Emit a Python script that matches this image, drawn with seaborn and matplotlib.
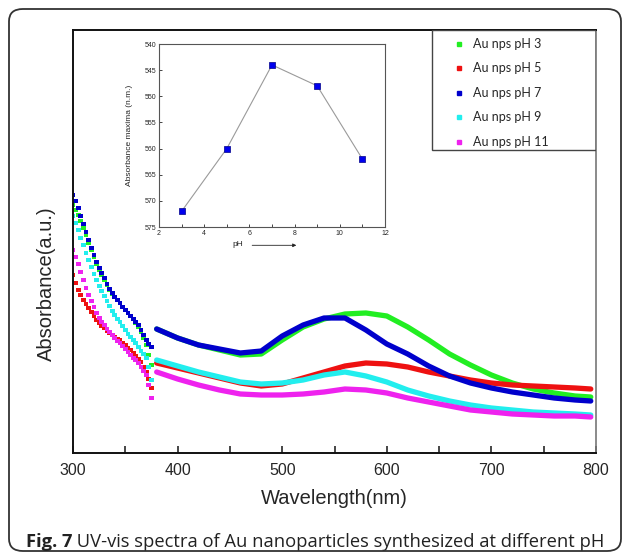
import pandas as pd
import seaborn as sns
import matplotlib.pyplot as plt
from matplotlib.lines import Line2D
from matplotlib.patches import FancyBboxPatch, Rectangle

# --- DATA ---
wl_uv = [300, 302.5, 305, 307.5, 310, 312.5, 315, 317.5, 320, 322.5, 325, 327.5, 330, 332.5,
         335, 337.5, 340, 342.5, 345, 347.5, 350, 352.5, 355, 357.5, 360, 362.5, 365, 367.5,
         370, 372.5, 375]
wl_vis = [380, 400, 420, 440, 460, 480, 500, 520, 540, 560, 580, 600, 620, 640,
          660, 680, 700, 720, 740, 760, 780, 795]

samples = ["Au nps pH 3", "Au nps pH 5", "Au nps pH 7", "Au nps pH 9", "Au nps pH 11"]
colors = ["#22ee22", "#ee1111", "#0000cc", "#22eeee", "#ee22ee"]

uv_ph3 = [2.48, 2.43, 2.38, 2.32, 2.25, 2.18, 2.10, 2.03, 1.96, 1.89, 1.83, 1.78, 1.73, 1.68,
          1.63, 1.59, 1.56, 1.53, 1.50, 1.46, 1.43, 1.40, 1.37, 1.34, 1.30, 1.26, 1.21, 1.15,
          1.08, 0.98, 0.88]
uv_ph5 = [1.78, 1.70, 1.63, 1.58, 1.53, 1.49, 1.45, 1.41, 1.37, 1.33, 1.30, 1.27, 1.25, 1.22,
          1.20, 1.18, 1.16, 1.14, 1.13, 1.10, 1.08, 1.05, 1.03, 1.00, 0.97, 0.94, 0.91, 0.86,
          0.81, 0.74, 0.65]
uv_ph7 = [2.58, 2.52, 2.45, 2.37, 2.29, 2.21, 2.13, 2.05, 1.98, 1.91, 1.85, 1.80, 1.75, 1.69,
          1.64, 1.60, 1.56, 1.53, 1.50, 1.46, 1.43, 1.40, 1.37, 1.34, 1.31, 1.28, 1.23, 1.18,
          1.13, 1.09, 1.06]
uv_ph9 = [2.37, 2.30, 2.23, 2.15, 2.08, 2.00, 1.93, 1.86, 1.79, 1.73, 1.67, 1.62, 1.57, 1.52,
          1.47, 1.42, 1.38, 1.34, 1.31, 1.27, 1.23, 1.19, 1.16, 1.13, 1.10, 1.06, 1.02, 0.99,
          0.95, 0.86, 0.73]
uv_ph11 = [2.03, 1.96, 1.89, 1.81, 1.73, 1.65, 1.58, 1.52, 1.46, 1.40, 1.35, 1.31, 1.28, 1.24,
           1.21, 1.18, 1.15, 1.12, 1.10, 1.07, 1.04, 1.01, 0.98, 0.95, 0.93, 0.90, 0.86, 0.82,
           0.78, 0.68, 0.55]

vis_ph3 = [1.24, 1.15, 1.08, 1.03, 0.98, 0.99, 1.13, 1.26, 1.34, 1.39, 1.40, 1.37, 1.26, 1.13,
           0.99, 0.88, 0.78, 0.70, 0.64, 0.60, 0.57, 0.56]
vis_ph5 = [0.90, 0.85, 0.80, 0.75, 0.70, 0.67, 0.69, 0.75, 0.81, 0.87, 0.90, 0.89, 0.86, 0.81,
           0.77, 0.73, 0.70, 0.68, 0.67, 0.66, 0.65, 0.64]
vis_ph7 = [1.24, 1.15, 1.08, 1.04, 1.00, 1.02, 1.17, 1.28, 1.35, 1.35, 1.23, 1.09, 0.99, 0.87,
           0.77, 0.70, 0.65, 0.61, 0.58, 0.55, 0.53, 0.52]
vis_ph9 = [0.93, 0.87, 0.81, 0.76, 0.71, 0.69, 0.70, 0.73, 0.78, 0.81, 0.77, 0.71, 0.63, 0.57,
           0.52, 0.48, 0.45, 0.43, 0.41, 0.40, 0.39, 0.38]
vis_ph11 = [0.81, 0.74, 0.68, 0.63, 0.59, 0.58, 0.58, 0.59, 0.61, 0.64, 0.63, 0.60, 0.55, 0.51,
            0.47, 0.43, 0.41, 0.39, 0.38, 0.37, 0.37, 0.36]

# inset: absorbance maximum vs pH
ph_values = [3, 5, 7, 9, 11]
abs_max = [572, 560, 544, 548, 562]

# --- BUILD LONG TABLES ---
uv_sets = [uv_ph3, uv_ph5, uv_ph7, uv_ph9, uv_ph11]
vis_sets = [vis_ph3, vis_ph5, vis_ph7, vis_ph9, vis_ph11]
uv_df = pd.concat([pd.DataFrame({"Wavelength": wl_uv, "Absorbance": v, "Sample": s})
                   for s, v in zip(samples, uv_sets)])
vis_df = pd.concat([pd.DataFrame({"Wavelength": wl_vis, "Absorbance": v, "Sample": s})
                    for s, v in zip(samples, vis_sets)])
palette = dict(zip(samples, colors))
draw_order = ["Au nps pH 3", "Au nps pH 5", "Au nps pH 9", "Au nps pH 11", "Au nps pH 7"]

sns.set_style("white")
plt.rcParams["font.family"] = ["Liberation Sans", "DejaVu Sans"]

W, H = 629, 558
fig = plt.figure(figsize=(W / 100, H / 100), dpi=100)

# outer rounded frame
fig.patches.append(FancyBboxPatch((9 / W, 7 / H), 612 / W, 542 / H,
                                  boxstyle="round,pad=0,rounding_size=0.022",
                                  transform=fig.transFigure, fill=False,
                                  edgecolor="#333333", linewidth=1.3))

# --- MAIN SPECTRA ---
ax = fig.add_axes([73 / W, 1 - 453 / H, 523 / W, 423 / H])
sns.scatterplot(data=uv_df, x="Wavelength", y="Absorbance", hue="Sample",
                hue_order=draw_order, palette=palette, marker="s", s=12,
                edgecolor="none", legend=False, ax=ax)
sns.lineplot(data=vis_df, x="Wavelength", y="Absorbance", hue="Sample",
             hue_order=draw_order, palette=palette, linewidth=3.8,
             legend=False, ax=ax)
ax.set_xlim(300, 800)
ax.set_ylim(0, 4.23)
ax.set_xticks([300, 400, 500, 600, 700, 800])
ax.set_xticks([350, 450, 550, 650, 750], minor=True)
ax.set_yticks([])
ax.tick_params(axis="x", which="both", direction="in", length=5, width=1.2,
               labelsize=11.5, pad=7, bottom=True)
ax.set_xlabel("Wavelength(nm)", fontsize=14.5, labelpad=8)
ax.set_ylabel("Absorbance(a.u.)", fontsize=14.5, labelpad=12, y=0.40)
for side in ["left", "bottom", "top"]:
    ax.spines[side].set_color("#111111")
    ax.spines[side].set_linewidth(1.4)
ax.spines["right"].set_color("#777777")
ax.spines["right"].set_linewidth(1.2)

# legend box in the upper right corner
ax.add_patch(Rectangle((0.686, 0.716), 0.314, 0.284, transform=ax.transAxes,
                       fill=False, edgecolor="#444444", linewidth=1.0, zorder=5))
handles = [Line2D([], [], linestyle="none", marker="s", markersize=3.5,
                  markerfacecolor=c, markeredgecolor=c) for c in colors]
ax.legend(handles, samples, loc="upper left", bbox_to_anchor=(0.71, 1.005),
          frameon=False, labelspacing=1.0, handlelength=0.7,
          handletextpad=0.8, borderpad=0.3, prop={"family": "Lato", "size": 9})

# --- INSET ---
axin = fig.add_axes([159 / W, 1 - 227 / H, 226 / W, 183 / H])
sns.lineplot(x=ph_values, y=abs_max, color="#9a9a9a", linewidth=0.8, ax=axin)
sns.scatterplot(x=ph_values, y=abs_max, marker="s", s=24, color="#0000ee",
                edgecolor="#000088", linewidth=0.5, zorder=3, ax=axin)
axin.set_xlim(2, 12)
axin.set_ylim(575, 540)
axin.set_xticks([2, 4, 6, 8, 10, 12])
axin.set_xticks([3, 5, 7, 9, 11], minor=True)
axin.set_yticks([540, 545, 550, 555, 560, 565, 570, 575])
axin.tick_params(which="both", direction="in", length=2, width=0.6,
                 labelsize=5, pad=2, left=True, bottom=True)
for sp in axin.spines.values():
    sp.set_color("#555555")
    sp.set_linewidth(0.8)
axin.set_ylabel("Absorbance maxima (n.m.)", fontsize=6, labelpad=8)
axin.set_xlabel("")
axin.text(0.35, -0.075, "pH", transform=axin.transAxes, fontsize=6,
          ha="center", va="top")
axin.annotate("", xy=(0.62, -0.1), xytext=(0.40, -0.1),
              xycoords="axes fraction",
              arrowprops=dict(arrowstyle="-|>", color="#222222", lw=0.6,
                              mutation_scale=5))

# --- CAPTION ---
cap_font = ["Open Sans", "DejaVu Sans"]
cap = fig.text(26 / W, 1 - 551 / H, "Fig. 7", fontsize=13.2, fontweight="bold",
               family=cap_font, va="bottom", color="#222222")
ax.annotate(" UV-vis spectra of Au nanoparticles synthesized at different pH",
            xy=(1, 0), xycoords=cap, va="bottom", ha="left", fontsize=13.2,
            family=cap_font, color="#222222", annotation_clip=False)

fig.savefig("out.png", dpi=100)
